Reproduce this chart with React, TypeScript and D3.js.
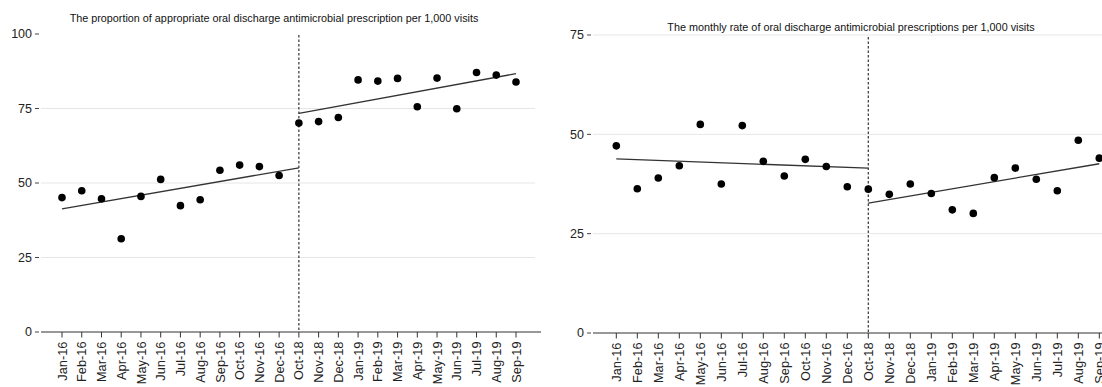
import React from "react";
import * as d3 from "d3";

const categories = ["Jan-16","Feb-16","Mar-16","Apr-16","May-16","Jun-16","Jul-16","Aug-16","Sep-16","Oct-16","Nov-16","Dec-16","Oct-18","Nov-18","Dec-18","Jan-19","Feb-19","Mar-19","Apr-19","May-19","Jun-19","Jul-19","Aug-19","Sep-19"];

const leftValues = [45.1,47.4,44.7,31.3,45.5,51.2,42.4,44.4,54.3,56.0,55.5,52.5,70.1,70.6,72.0,84.6,84.2,85.1,75.6,85.2,74.9,87.1,86.2,83.9];
const rightValues = [47.1,36.3,39.0,42.1,52.5,37.5,52.2,43.2,39.5,43.7,41.9,36.8,36.2,34.9,37.5,35.1,31.0,30.1,39.1,41.5,38.7,35.8,48.5,44.0];

const leftPreTrend = [41.3, 55.1];
const leftPostTrend = [73.4, 86.7];
const rightPreTrend = [43.8, 41.5];
const rightPostTrend = [32.7, 42.6];

const leftTicks = [0, 25, 50, 75, 100];
const rightTicks = [0, 25, 50, 75];

const leftTitle = "The proportion of appropriate oral discharge antimicrobial prescription per 1,000 visits";
const rightTitle = "The monthly rate of oral discharge antimicrobial prescriptions per 1,000 visits";

const FONT = "'Liberation Sans', Arial, Helvetica, sans-serif";

type PanelProps = {
  values: number[];
  pre: number[];
  post: number[];
  ticks: number[];
  gridTicks: number[];
  yMax: number;
  xRange: [number, number];
  yRange: [number, number];
  axisX: [number, number];
  gridX: [number, number];
  title: string;
  titleX: number;
  titleY: number;
  dashTop: number;
};

function Panel(p: PanelProps) {
  const x = d3.scalePoint<string>().domain(categories).range(p.xRange);
  const y = d3.scaleLinear().domain([0, p.yMax]).range(p.yRange);
  const line = d3.line<[string, number]>().x(d => x(d[0])!).y(d => y(d[1]));
  const preSeg: [string, number][] = [["Jan-16", p.pre[0]], ["Oct-18", p.pre[1]]];
  const postSeg: [string, number][] = [["Oct-18", p.post[0]], ["Sep-19", p.post[1]]];
  const x0 = y(0);
  const ix = x("Oct-18")!;
  return (
    <g>
      {p.gridTicks.map(t => (
        <line key={"g" + t} x1={p.gridX[0]} x2={p.gridX[1]} y1={y(t)} y2={y(t)} stroke="#e6e6e6" strokeWidth={1} />
      ))}
      {p.ticks.map(t => (
        <g key={"t" + t}>
          <line x1={p.axisX[0] - 6} x2={p.axisX[0] - 2} y1={y(t)} y2={y(t)} stroke="#444" strokeWidth={1} />
          <text x={p.axisX[0] - 9} y={y(t)} dy="0.35em" textAnchor="end" fontSize={12.5} fill="#222" fontFamily={FONT}>{t}</text>
        </g>
      ))}
      <line x1={p.axisX[0]} x2={p.axisX[1]} y1={x0} y2={x0} stroke="#333" strokeWidth={1.2} />
      {categories.map(c => (
        <g key={c} transform={`translate(${x(c)},${x0})`}>
          <line y1={0} y2={5.5} stroke="#333" strokeWidth={1} />
          <text transform="rotate(-90)" x={-9.5} y={0} dy="0.36em" textAnchor="end" fontSize={12.8} fill="#222" fontFamily={FONT}>{c}</text>
        </g>
      ))}
      <line x1={ix} x2={ix} y1={p.dashTop} y2={x0} stroke="#333" strokeWidth={1.2} strokeDasharray="2.5,2" />
      <path d={line(preSeg)!} fill="none" stroke="#333" strokeWidth={1.3} />
      <path d={line(postSeg)!} fill="none" stroke="#333" strokeWidth={1.3} />
      {p.values.map((v, i) => (
        <circle key={i} cx={x(categories[i])!} cy={y(v)} r={3.8} fill="#000" />
      ))}
      <text x={p.titleX} y={p.titleY} textAnchor="middle" fontSize={10.8} fill="#111" fontFamily={FONT}>{p.title}</text>
    </g>
  );
}

export default function App() {
  return (
    <svg width={1102} height={387} style={{ position: "absolute", left: 0, top: 0, background: "#fff" }}>
      <rect width={1102} height={387} fill="#fff" />
      <Panel
        values={leftValues} pre={leftPreTrend} post={leftPostTrend}
        ticks={leftTicks} gridTicks={[25, 50, 75]} yMax={100}
        xRange={[62, 516]} yRange={[332, 34]} axisX={[41, 541]} gridX={[41, 535]}
        title={leftTitle} titleX={274} titleY={21.5} dashTop={35}
      />
      <Panel
        values={rightValues} pre={rightPreTrend} post={rightPostTrend}
        ticks={rightTicks} gridTicks={[25, 50, 75]} yMax={75}
        xRange={[616.3, 1099.3]} yRange={[333, 35]} axisX={[593, 1110]} gridX={[593, 1102]}
        title={rightTitle} titleX={851} titleY={31} dashTop={37}
      />
    </svg>
  );
}
